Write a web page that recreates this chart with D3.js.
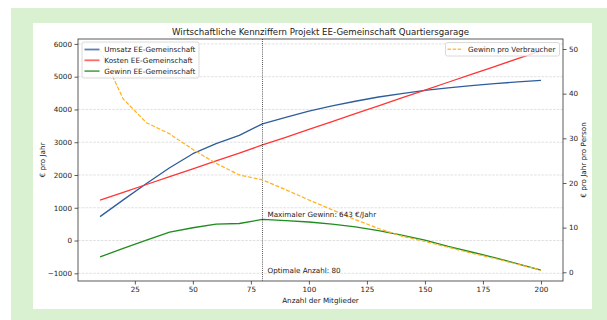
<!DOCTYPE html>
<html><head><meta charset="utf-8">
<script src="https://cdn.jsdelivr.net/npm/d3@7"></script>
<style>body{margin:0;background:#fff}svg{display:block;font-family:"DejaVu Sans",sans-serif}</style>
</head><body>
<svg id="c" width="607" height="320"></svg>
<script>
const members = [10,20,30,40,50,60,70,80,90,100,110,120,130,140,150,160,170,180,190,200];
const umsatz  = [730,1240,1740,2220,2650,2960,3210,3560,3760,3950,4110,4250,4380,4480,4580,4660,4730,4790,4840,4890];
const kosten  = [1230,1470,1710,1950,2190,2430,2670,2917,3150,3390,3630,3870,4110,4350,4590,4830,5070,5310,5550,5790];
const gewinn  = [-500,-240,10,255,390,500,520,643,610,565,500,415,300,165,10,-180,-350,-520,-710,-900];
const proVerbraucher = [49.8,38.8,33.5,31.0,27.5,24.4,21.8,20.7,18.5,16.2,14.0,11.8,9.8,8.1,6.9,5.6,4.3,3.1,1.8,0.5];
const xTicks = [25,50,75,100,125,150,175,200];
const yTicks = [-1000,0,1000,2000,3000,4000,5000,6000];
const y2Ticks = [0,10,20,30,40,50];
const optimum = 80, maxGewinn = 643;
const title = "Wirtschaftliche Kennziffern Projekt EE-Gemeinschaft Quartiersgarage";
const seriesLeft = [
  {name:"Umsatz EE-Gemeinschaft", values:umsatz, color:"#2f5d9b", legend:"#5b80b4"},
  {name:"Kosten EE-Gemeinschaft", values:kosten, color:"#ff3535", legend:"#ff6a6a"},
  {name:"Gewinn EE-Gemeinschaft", values:gewinn, color:"#1f8c1f", legend:"#5fae5f"}
];

const svg = d3.select("#c");
const L=78,R=563,T=39,B=281;
svg.append("rect").attr("x",11).attr("y",8).attr("width",596).attr("height",312).attr("fill","#d9f1d1");
svg.append("rect").attr("x",33).attr("y",23).attr("width",559).attr("height",286).attr("fill","#fff");

const x = d3.scaleLinear().domain([0.5,209.5]).range([L,R]);
const y = d3.scaleLinear().domain([-1235,6150]).range([B,T]);
const y2 = d3.scaleLinear().domain([-1.95,52.24]).range([B,T]);
const fmt = d => d<0 ? "\u2212"+Math.abs(d) : String(d);
const FS = 7.2;

// grid
svg.append("g").selectAll("line").data(yTicks).join("line")
  .attr("x1",L).attr("x2",R).attr("y1",d=>y(d)).attr("y2",d=>y(d))
  .attr("stroke","#d4d4d4").attr("stroke-width",0.7).attr("stroke-dasharray","2.6,1.2");

// axes
const gl = svg.append("g").attr("transform",`translate(${L},0)`)
  .call(d3.axisLeft(y).tickValues(yTicks).tickFormat(fmt).tickSize(3.5).tickPadding(2.5));
const gb = svg.append("g").attr("transform",`translate(0,${B})`)
  .call(d3.axisBottom(x).tickValues(xTicks).tickSize(3.5).tickPadding(2.5));
const gr = svg.append("g").attr("transform",`translate(${R},0)`)
  .call(d3.axisRight(y2).tickValues(y2Ticks).tickSize(3.5).tickPadding(2.5));
[gl,gb,gr].forEach(g=>{
  g.select(".domain").remove();
  g.selectAll("line").attr("stroke","#333").attr("stroke-width",0.8);
  g.selectAll("text").attr("font-size",FS).attr("fill","#222").attr("font-family","DejaVu Sans");
});
svg.append("rect").attr("x",L).attr("y",T).attr("width",R-L).attr("height",B-T)
  .attr("fill","none").attr("stroke","#333").attr("stroke-width",0.8);

// lines
svg.append("clipPath").attr("id","pc").append("rect").attr("x",L).attr("y",T).attr("width",R-L).attr("height",B-T);
const plot = svg.append("g").attr("clip-path","url(#pc)");
seriesLeft.forEach(s=>{
  plot.append("path").datum(s.values)
    .attr("d", d3.line().x((d,i)=>x(members[i])).y(d=>y(d)))
    .attr("fill","none").attr("stroke",s.color).attr("stroke-width",1.3).attr("stroke-linejoin","round");
});
plot.append("line").attr("x1",x(optimum)).attr("x2",x(optimum)).attr("y1",T).attr("y2",B)
  .attr("stroke","#000").attr("stroke-width",0.8).attr("stroke-dasharray","0.8,1.3");
svg.append("text").attr("x",x(optimum)+5).attr("y",y(maxGewinn)-2.5).attr("font-size",FS).attr("fill","#222")
  .text(`Maximaler Gewinn: ${maxGewinn} \u20ac/Jahr`);
svg.append("text").attr("x",x(optimum)+5).attr("y",y(-1000)-0.5).attr("font-size",FS).attr("fill","#222")
  .text(`Optimale Anzahl: ${optimum}`);

// legend 1
const lg1 = svg.append("g");
lg1.append("rect").attr("x",82).attr("y",42).attr("width",117).attr("height",36).attr("rx",2)
  .attr("fill","#fff").attr("fill-opacity",0.8).attr("stroke","#d0d0d0").attr("stroke-width",0.8);
seriesLeft.forEach((s,i)=>{
  const yy = 49.5 + i*10.8;
  lg1.append("line").attr("x1",84.5).attr("x2",99.5).attr("y1",yy).attr("y2",yy).attr("stroke",s.legend).attr("stroke-width",1.8);
  lg1.append("text").attr("x",104.3).attr("y",yy+2.6).attr("font-size",FS).attr("fill","#222").text(s.name);
});

// orange on secondary axis
plot.append("path").datum(proVerbraucher)
  .attr("d", d3.line().x((d,i)=>x(members[i])).y(d=>y2(d)))
  .attr("fill","none").attr("stroke","#ffb020").attr("stroke-width",1.2).attr("stroke-dasharray","4,1.8");

// legend 2
const lg2 = svg.append("g");
lg2.append("rect").attr("x",445.5).attr("y",42.5).attr("width",114).attr("height",13.5).attr("rx",2)
  .attr("fill","#fff").attr("fill-opacity",0.8).attr("stroke","#d0d0d0").attr("stroke-width",0.8);
lg2.append("line").attr("x1",447.5).attr("x2",462.5).attr("y1",49.3).attr("y2",49.3)
  .attr("stroke","#ffc04d").attr("stroke-width",1.4).attr("stroke-dasharray","3.5,1.6");
lg2.append("text").attr("x",468).attr("y",51.9).attr("font-size",FS).attr("fill","#222").text("Gewinn pro Verbraucher");

// title & labels
svg.append("text").attr("x",(L+R)/2).attr("y",35).attr("text-anchor","middle").attr("font-size",8.6).attr("fill","#222").text(title);
svg.append("text").attr("x",(L+R)/2).attr("y",303).attr("text-anchor","middle").attr("font-size",FS).attr("fill","#222").text("Anzahl der Mitglieder");
svg.append("text").attr("transform",`translate(44.5,${(T+B)/2}) rotate(-90)`).attr("text-anchor","middle").attr("font-size",FS).attr("fill","#222").text("\u20ac pro Jahr");
svg.append("text").attr("transform",`translate(586,${(T+B)/2}) rotate(-90)`).attr("text-anchor","middle").attr("font-size",FS).attr("fill","#222").text("\u20ac pro Jahr pro Person");
</script>
</body></html>
